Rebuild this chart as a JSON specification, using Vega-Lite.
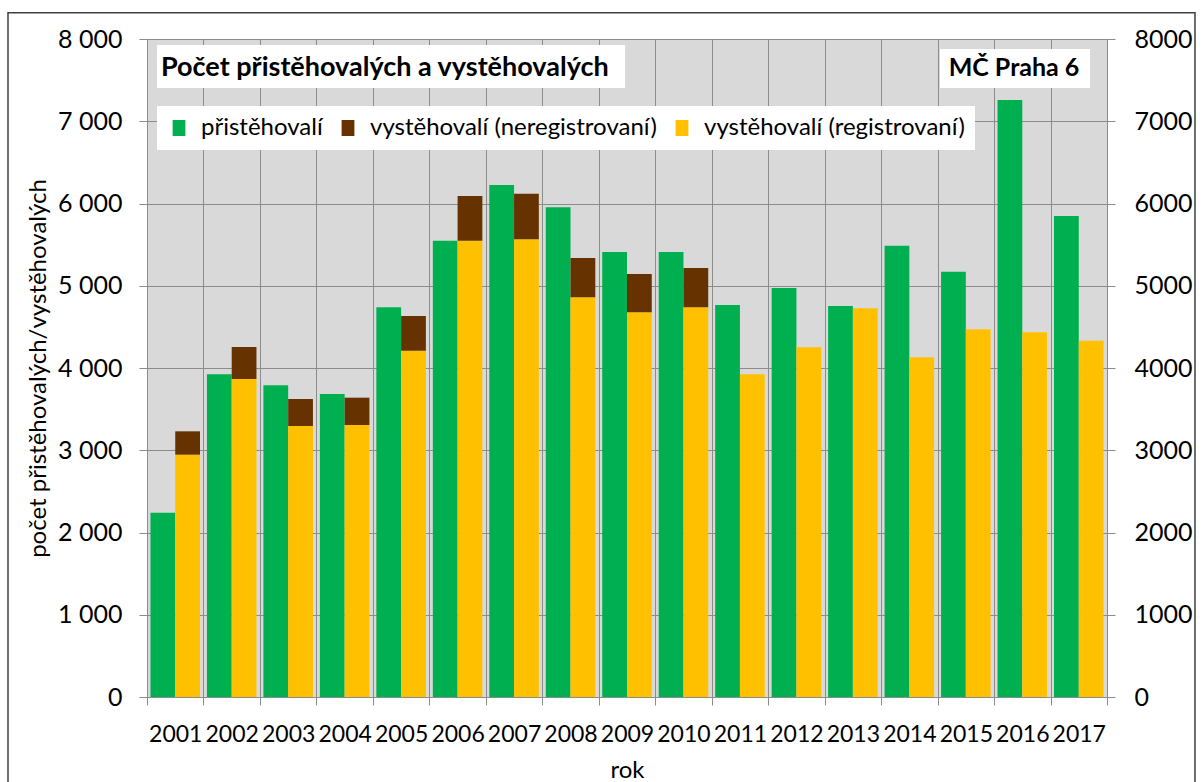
{
  "$schema": "https://vega.github.io/schema/vega-lite/v6.json",
  "width": 960,
  "height": 658,
  "autosize": {"type": "none"},
  "padding": {"left": 147, "top": 39, "right": 96, "bottom": 85},
  "background": "white",
  "title": {
    "text": "Obr. 5-3: Vývoj počtu přistěhovalých a vystěhovalých do roku 2017",
    "anchor": "start",
    "frame": "group",
    "font": "Liberation Serif",
    "fontSize": 24,
    "fontWeight": "bold",
    "color": "#000000",
    "baseline": "alphabetic",
    "offset": 0,
    "dx": -141
  },
  "datasets": {
    "pohyb": [
      {"rok": "2001", "skupina": "přistěhovalí", "kategorie": "přistěhovalí", "pocet": 2241},
      {"rok": "2001", "skupina": "vystěhovalí", "kategorie": "vystěhovalí (registrovaní)", "pocet": 2946},
      {"rok": "2001", "skupina": "vystěhovalí", "kategorie": "vystěhovalí (neregistrovaní)", "pocet": 284},
      {"rok": "2002", "skupina": "přistěhovalí", "kategorie": "přistěhovalí", "pocet": 3923},
      {"rok": "2002", "skupina": "vystěhovalí", "kategorie": "vystěhovalí (registrovaní)", "pocet": 3866},
      {"rok": "2002", "skupina": "vystěhovalí", "kategorie": "vystěhovalí (neregistrovaní)", "pocet": 389},
      {"rok": "2003", "skupina": "přistěhovalí", "kategorie": "přistěhovalí", "pocet": 3790},
      {"rok": "2003", "skupina": "vystěhovalí", "kategorie": "vystěhovalí (registrovaní)", "pocet": 3295},
      {"rok": "2003", "skupina": "vystěhovalí", "kategorie": "vystěhovalí (neregistrovaní)", "pocet": 328},
      {"rok": "2004", "skupina": "přistěhovalí", "kategorie": "přistěhovalí", "pocet": 3684},
      {"rok": "2004", "skupina": "vystěhovalí", "kategorie": "vystěhovalí (registrovaní)", "pocet": 3307},
      {"rok": "2004", "skupina": "vystěhovalí", "kategorie": "vystěhovalí (neregistrovaní)", "pocet": 332},
      {"rok": "2005", "skupina": "přistěhovalí", "kategorie": "přistěhovalí", "pocet": 4738},
      {"rok": "2005", "skupina": "vystěhovalí", "kategorie": "vystěhovalí (registrovaní)", "pocet": 4210},
      {"rok": "2005", "skupina": "vystěhovalí", "kategorie": "vystěhovalí (neregistrovaní)", "pocet": 422},
      {"rok": "2006", "skupina": "přistěhovalí", "kategorie": "přistěhovalí", "pocet": 5548},
      {"rok": "2006", "skupina": "vystěhovalí", "kategorie": "vystěhovalí (registrovaní)", "pocet": 5548},
      {"rok": "2006", "skupina": "vystěhovalí", "kategorie": "vystěhovalí (neregistrovaní)", "pocet": 543},
      {"rok": "2007", "skupina": "přistěhovalí", "kategorie": "přistěhovalí", "pocet": 6225},
      {"rok": "2007", "skupina": "vystěhovalí", "kategorie": "vystěhovalí (registrovaní)", "pocet": 5565},
      {"rok": "2007", "skupina": "vystěhovalí", "kategorie": "vystěhovalí (neregistrovaní)", "pocet": 554},
      {"rok": "2008", "skupina": "přistěhovalí", "kategorie": "přistěhovalí", "pocet": 5954},
      {"rok": "2008", "skupina": "vystěhovalí", "kategorie": "vystěhovalí (registrovaní)", "pocet": 4860},
      {"rok": "2008", "skupina": "vystěhovalí", "kategorie": "vystěhovalí (neregistrovaní)", "pocet": 477},
      {"rok": "2009", "skupina": "přistěhovalí", "kategorie": "přistěhovalí", "pocet": 5410},
      {"rok": "2009", "skupina": "vystěhovalí", "kategorie": "vystěhovalí (registrovaní)", "pocet": 4677},
      {"rok": "2009", "skupina": "vystěhovalí", "kategorie": "vystěhovalí (neregistrovaní)", "pocet": 466},
      {"rok": "2010", "skupina": "přistěhovalí", "kategorie": "přistěhovalí", "pocet": 5410},
      {"rok": "2010", "skupina": "vystěhovalí", "kategorie": "vystěhovalí (registrovaní)", "pocet": 4738},
      {"rok": "2010", "skupina": "vystěhovalí", "kategorie": "vystěhovalí (neregistrovaní)", "pocet": 478},
      {"rok": "2011", "skupina": "přistěhovalí", "kategorie": "přistěhovalí", "pocet": 4766},
      {"rok": "2011", "skupina": "vystěhovalí", "kategorie": "vystěhovalí (registrovaní)", "pocet": 3923},
      {"rok": "2012", "skupina": "přistěhovalí", "kategorie": "přistěhovalí", "pocet": 4973},
      {"rok": "2012", "skupina": "vystěhovalí", "kategorie": "vystěhovalí (registrovaní)", "pocet": 4252},
      {"rok": "2013", "skupina": "přistěhovalí", "kategorie": "přistěhovalí", "pocet": 4754},
      {"rok": "2013", "skupina": "vystěhovalí", "kategorie": "vystěhovalí (registrovaní)", "pocet": 4726},
      {"rok": "2014", "skupina": "přistěhovalí", "kategorie": "přistěhovalí", "pocet": 5487},
      {"rok": "2014", "skupina": "vystěhovalí", "kategorie": "vystěhovalí (registrovaní)", "pocet": 4130},
      {"rok": "2015", "skupina": "přistěhovalí", "kategorie": "přistěhovalí", "pocet": 5171},
      {"rok": "2015", "skupina": "vystěhovalí", "kategorie": "vystěhovalí (registrovaní)", "pocet": 4470},
      {"rok": "2016", "skupina": "přistěhovalí", "kategorie": "přistěhovalí", "pocet": 7258},
      {"rok": "2016", "skupina": "vystěhovalí", "kategorie": "vystěhovalí (registrovaní)", "pocet": 4434},
      {"rok": "2017", "skupina": "přistěhovalí", "kategorie": "přistěhovalí", "pocet": 5848},
      {"rok": "2017", "skupina": "vystěhovalí", "kategorie": "vystěhovalí (registrovaní)", "pocet": 4332}
    ]
  },
  "layer": [
    {
      "data": {"name": "pohyb"},
      "mark": {"type": "bar"},
      "encoding": {
        "x": {
          "field": "rok",
          "type": "ordinal",
          "title": "rok",
          "scale": {"domain": ["2001","2002","2003","2004","2005","2006","2007","2008","2009","2010","2011","2012","2013","2014","2015","2016","2017"], "paddingInner": 0, "paddingOuter": 0},
          "axis": {
            "tickBand": "extent",
            "grid": true,
            "labelAngle": 0,
            "labelFontSize": 23,
            "labelPadding": 18,
            "labelBaseline": "top",
            "titleX": 480,
            "titleY": 80,
            "titleBaseline": "alphabetic",
            "titleAnchor": "middle"
          }
        },
        "xOffset": {
          "field": "skupina",
          "type": "nominal",
          "scale": {"domain": ["přistěhovalí", "vystěhovalí"], "paddingInner": 0, "paddingOuter": 0.14}
        },
        "y": {
          "field": "pocet",
          "type": "quantitative",
          "stack": "zero",
          "scale": {"domain": [0, 8000], "nice": false},
          "title": "počet přistěhovalých/vystěhovalých",
          "axis": {
            "orient": "left",
            "values": [0,1000,2000,3000,4000,5000,6000,7000,8000],
            "labelExpr": "replace(format(datum.value, ','), ',', ' ')",
            "grid": true,
            "labelPadding": 17,
            "titleX": -109,
            "titleY": 329,
            "titleAngle": 270,
            "titleBaseline": "middle",
            "titleAlign": "center"
          }
        },
        "color": {
          "field": "kategorie",
          "type": "nominal",
          "scale": {
            "domain": ["přistěhovalí", "vystěhovalí (neregistrovaní)", "vystěhovalí (registrovaní)"],
            "range": ["#00b050", "#663300", "#ffc000"]
          },
          "legend": {
            "orient": "none",
            "legendX": 10,
            "legendY": 67,
            "direction": "horizontal",
            "columns": 3,
            "title": null
          }
        },
        "order": {"field": "kategorie", "sort": "descending"}
      }
    },
    {
      "data": {"values": [{}]},
      "mark": {"type": "rect", "filled": false, "stroke": "#404040", "strokeWidth": 1.5},
      "encoding": {
        "x": {"datum": "2001", "type": "ordinal", "bandPosition": -2.4615, "axis": null},
        "x2": {"datum": "2017", "bandPosition": 2.558},
        "y": {"datum": 8320, "type": "quantitative", "axis": null},
        "y2": {"datum": -1500}
      }
    },
    {
      "data": {"values": [{}]},
      "mark": {"type": "rect", "fill": "#ffffff", "strokeWidth": 0},
      "encoding": {
        "x": {"datum": "2001", "type": "ordinal", "bandPosition": 0.177, "axis": null},
        "x2": {"datum": "2009", "bandPosition": 0.465},
        "y": {"datum": 7927, "type": "quantitative", "axis": null},
        "y2": {"datum": 7404}
      }
    },
    {
      "data": {"values": [{}]},
      "mark": {"type": "rect", "fill": "#ffffff", "strokeWidth": 0},
      "encoding": {
        "x": {"datum": "2015", "type": "ordinal", "bandPosition": 0.043, "axis": null},
        "x2": {"datum": "2017", "bandPosition": 0.699},
        "y": {"datum": 7878, "type": "quantitative", "axis": null},
        "y2": {"datum": 7404}
      }
    },
    {
      "data": {"values": [{}]},
      "mark": {"type": "text", "text": "Počet přistěhovalých a vystěhovalých", "font": "Lato", "fontSize": 27, "fontWeight": "bold", "align": "left", "baseline": "middle", "color": "#000000"},
      "encoding": {
        "x": {"datum": "2001", "type": "ordinal", "bandPosition": 0.248, "axis": null},
        "y": {"datum": 7647, "type": "quantitative", "axis": null}
      }
    },
    {
      "data": {"values": [{}]},
      "mark": {"type": "text", "text": "MČ Praha 6", "font": "Lato", "fontSize": 25, "fontWeight": "bold", "align": "center", "baseline": "middle", "color": "#000000"},
      "encoding": {
        "x": {"datum": "2016", "type": "ordinal", "bandPosition": 0.353, "axis": null},
        "y": {
          "datum": 7647,
          "type": "quantitative",
          "axis": {
            "orient": "right",
            "values": [0,1000,2000,3000,4000,5000,6000,7000,8000],
            "format": "d",
            "grid": false,
            "title": null,
            "labelPadding": 19
          }
        }
      }
    }
  ],
  "resolve": {"axis": {"x": "independent", "y": "independent"}},
  "config": {
    "font": "Lato",
    "view": {"fill": "#d9d9d9", "stroke": "#8c8c8c", "strokeWidth": 1},
    "axis": {
      "labelFont": "Lato",
      "labelFontSize": 25,
      "labelColor": "#000000",
      "titleFont": "Lato",
      "titleFontSize": 24,
      "titleFontWeight": "normal",
      "titleColor": "#000000",
      "domainColor": "#8c8c8c",
      "tickColor": "#8c8c8c",
      "gridColor": "#8c8c8c",
      "gridOpacity": 1,
      "gridWidth": 1,
      "tickSize": 8
    },
    "legend": {
      "fillColor": "#ffffff",
      "padding": 10,
      "labelFont": "Lato",
      "labelFontSize": 24,
      "labelColor": "#000000",
      "labelLimit": 600,
      "labelOffset": 10,
      "columnPadding": 13,
      "symbolType": "M-0.8,-1H0.8V1H-0.8Z",
      "symbolSize": 256,
      "symbolStrokeWidth": 0,
      "symbolOpacity": 1
    }
  }
}
